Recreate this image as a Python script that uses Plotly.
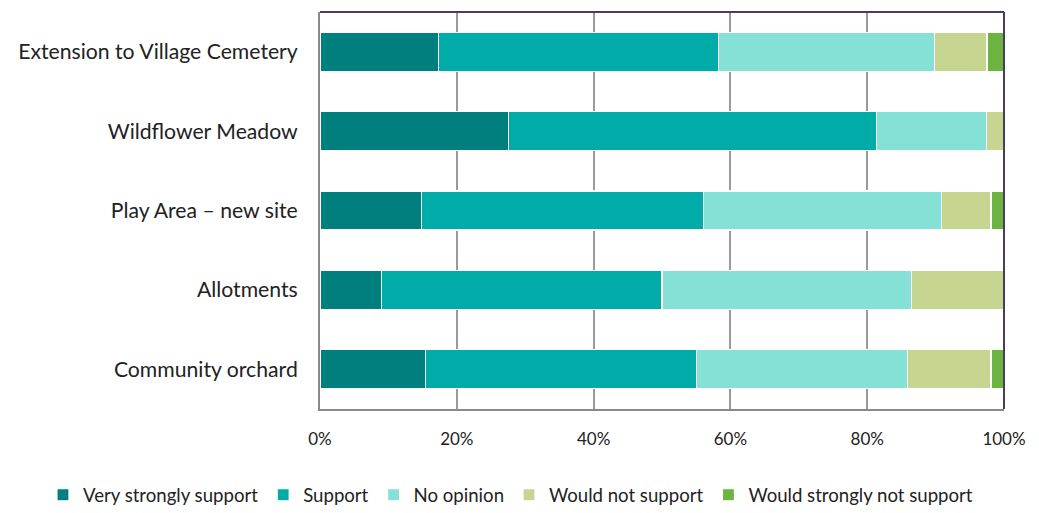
import plotly.graph_objects as go

categories = ["Extension to Village Cemetery", "Wildflower Meadow", "Play Area – new site",
              "Allotments", "Community orchard"]
series_names = ["Very strongly support", "Support", "No opinion",
                "Would not support", "Would strongly not support"]
very_strongly_support = [17.3, 27.6, 14.8, 9.0, 15.4]
support = [41.0, 53.8, 41.3, 41.0, 39.7]
no_opinion = [31.5, 16.0, 34.8, 36.5, 30.8]
would_not_support = [7.7, 2.6, 7.2, 13.5, 12.2]
would_strongly_not_support = [2.5, 0.0, 1.9, 0.0, 1.9]
x_ticks = [0, 20, 40, 60, 80, 100]
x_tick_labels = ["0%", "20%", "40%", "60%", "80%", "100%"]

colors = ["#007F7F", "#00ABA8", "#85E0D6", "#C6D590", "#6DB33F"]
values = [very_strongly_support, support, no_opinion, would_not_support, would_strongly_not_support]

FONT = "Lato, 'Open Sans', sans-serif"

fig = go.Figure()
for name, vals, col in zip(series_names, values, colors):
    fig.add_trace(go.Bar(
        y=categories, x=vals, name=name, orientation="h",
        marker=dict(color=col, line=dict(color="white", width=1.2)),
        hoverinfo="x+y+name",
    ))

fig.update_layout(
    barmode="stack",
    bargap=0.51,
    width=1039, height=513,
    margin=dict(l=320, r=35, t=12, b=104, autoexpand=False),
    plot_bgcolor="white", paper_bgcolor="white",
    font=dict(family=FONT, color="#222222"),
    legend=dict(orientation="h", xref="paper", yref="paper",
                x=-0.405, xanchor="left", y=-0.217, yanchor="middle",
                font=dict(size=18.6, family=FONT, color="#222222"),
                itemwidth=30, traceorder="normal"),
    xaxis=dict(range=[0, 100], tickvals=x_ticks, ticktext=x_tick_labels,
               showgrid=True, gridcolor="#9A9A9A", gridwidth=1.5,
               showline=True, linecolor="#8A8A8A", linewidth=2,
               ticks="", tickfont=dict(size=17, family=FONT, color="#222222"),
               ticklabelstandoff=14, zeroline=False, fixedrange=True),
    yaxis=dict(categoryorder="array", categoryarray=categories, autorange="reversed",
               showline=True, linecolor="#8A8A8A", linewidth=2,
               ticks="", tickfont=dict(size=21.2, family=FONT, color="#222222"),
               ticklabelstandoff=16, showgrid=False, fixedrange=True),
    shapes=[
        dict(type="line", xref="paper", yref="paper", x0=0, x1=1, y0=1, y1=1,
             line=dict(color="#4A3C5C", width=2)),
        dict(type="line", xref="paper", yref="paper", x0=1, x1=1, y0=0, y1=1,
             line=dict(color="#4A3C5C", width=2)),
    ],
)

fig.write_html("out.html")
